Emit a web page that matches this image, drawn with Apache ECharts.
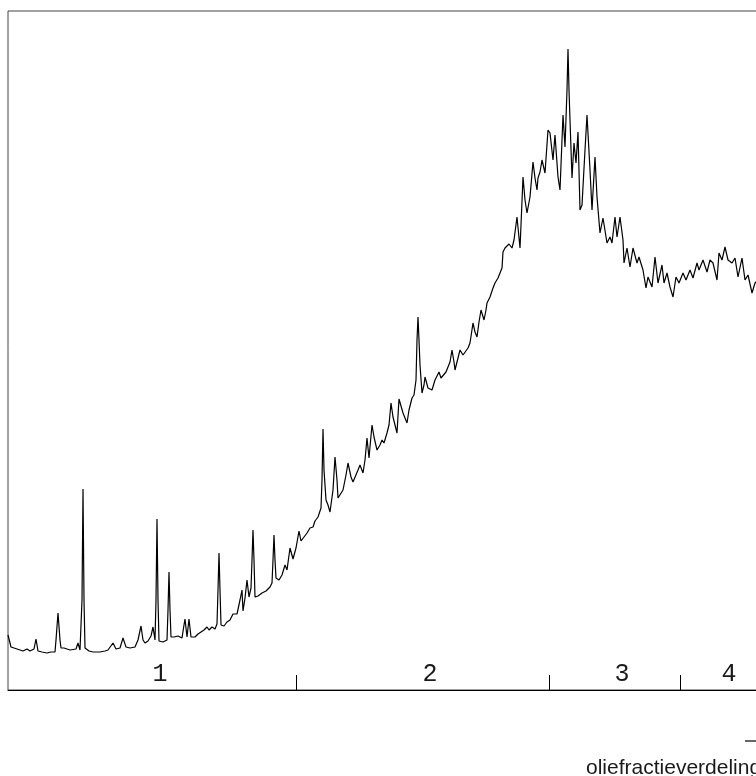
<!DOCTYPE html>
<html>
<head>
<meta charset="utf-8">
<script src="https://cdn.jsdelivr.net/npm/echarts@6/dist/echarts.min.js"></script>
<style>
html,body{margin:0;padding:0;overflow:hidden;background:#fff;width:756px;height:776px;}
#chart{width:800px;height:776px;}
</style>
</head>
<body>
<div id="chart"></div>
<script>
// retention time (arbitrary units) and detector signal
const retentionTime = [0,3,6,9,12,15,19,22,24,26,28,30,34,39,43,47,48,50,52,53,56,59,62,64,68,70,72,73,74,75,76,77,78,81,85,89,92,97,100,102,105,108,112,115,118,122,127,130,133,135,137,140,143,145,147,148,149,150,151,153,155,157,159,160,161,162,163,166,170,174,176,177,179,181,183,187,190,193,196,199,201,204,207,209,210,211,212,213,216,219,222,225,227,229,232,234,235,237,239,241,243,244,245,246,247,250,254,258,262,264,265,266,267,268,271,274,277,279,282,285,288,291,293,296,299,302,305,307,310,313,314,315,316,318,320,322,325,327,329,330,332,335,338,340,343,345,347,350,352,355,357,359,361,364,366,369,372,374,376,379,381,383,385,387,389,391,393,395,397,399,401,404,406,408,409,410,411,412,414,416,417,420,422,424,427,429,431,433,435,438,440,442,444,446,447,450,452,455,457,460,462,465,467,469,471,473,476,478,479,482,485,487,490,492,494,495,497,499,501,502,504,506,509,512,513,515,517,519,522,525,527,529,530,532,534,537,540,542,545,547,550,552,555,557,559,560,561,562,564,566,568,570,572,574,577,579,582,584,587,589,592,595,599,602,604,607,609,612,615,616,619,622,625,629,631,635,638,640,644,647,650,654,656,659,662,665,668,671,675,678,682,685,689,691,695,699,702,705,709,711,714,717,720,724,727,730,734,737,740,744,747,750];
const signal = [55,43,42,41,40,39,41,39,38,41,51,39,38,37,38,38,50,77,50,42,42,41,40,40,41,47,40,38,90,201,90,42,40,39,38,38,38,39,40,42,47,41,42,52,43,42,43,50,64,50,47,49,54,63,50,90,171,90,49,47,48,50,50,80,118,80,53,53,54,52,65,71,53,71,53,53,56,58,60,63,60,63,61,66,100,137,100,65,64,68,70,76,78,76,90,100,79,92,110,93,102,130,160,130,93,94,97,99,103,107,130,155,130,112,110,115,125,120,142,131,142,159,149,153,157,162,163,169,173,182,210,261,220,190,185,178,200,233,210,192,193,200,215,227,213,208,208,220,225,217,230,252,232,265,253,240,245,250,247,257,265,287,273,265,257,291,284,277,277,267,280,292,295,310,350,373,350,325,297,305,313,302,304,300,310,314,318,312,312,318,320,328,340,328,320,332,340,335,335,342,347,367,358,353,368,380,370,380,387,393,402,407,412,417,422,438,442,442,446,447,442,450,473,442,465,513,490,477,493,528,512,500,512,518,530,517,560,557,530,555,513,500,575,543,600,641,600,570,512,547,527,558,480,485,540,575,520,480,533,493,457,472,447,453,447,473,453,473,450,427,442,423,442,427,433,420,402,413,403,433,407,425,407,417,403,393,413,407,417,410,420,412,427,420,430,418,430,427,410,437,430,443,430,427,432,413,432,410,415,397,407,410];
// oil fraction boundaries and labels
const fractionBounds = [288, 541, 672];
const fractionLabelPos = [152, 422, 614, 721];
const fractionLabels = ['1', '2', '3', '4'];
const seriesName = 'oliefractie';
const xTitle = 'oliefractieverdeling';

const chart = echarts.init(document.getElementById('chart'), null, {renderer: 'canvas'});
const points = retentionTime.map((t, i) => [t, signal[i]]);
chart.setOption({
  animation: false,
  backgroundColor: '#fff',
  title: {
    text: xTitle,
    left: 586, top: 758, padding: 0,
    textStyle: {fontFamily: 'Liberation Sans', fontSize: 21, fontWeight: 'normal', color: '#1a1a1a'}
  },
  legend: {
    data: [{name: seriesName, icon: 'rect'}],
    left: 745, top: 731,
    itemWidth: 25, itemHeight: 1.2, padding: 0, itemGap: 6,
    itemStyle: {color: '#000', borderWidth: 0},
    lineStyle: {width: 0},
    textStyle: {fontFamily: 'Liberation Sans', fontSize: 20, color: '#1a1a1a'}
  },
  grid: {left: 8, right: 10, top: 11, bottom: 86, show: true, borderColor: '#444', borderWidth: 1},
  xAxis: {
    type: 'value', min: 0, max: 782,
    splitLine: {show: false},
    axisLine: {show: true, lineStyle: {color: '#000', width: 1}},
    axisTick: {show: true, inside: true, length: 15, customValues: fractionBounds, lineStyle: {color: '#000', width: 1}},
    axisLabel: {
      show: true, inside: true, margin: 3,
      customValues: fractionLabelPos,
      formatter: v => fractionLabels[fractionLabelPos.indexOf(v)] || '',
      fontFamily: 'Liberation Mono', fontSize: 25, color: '#1a1a1a'
    }
  },
  yAxis: {type: 'value', min: 0, max: 679, show: false},
  series: [{
    name: seriesName,
    type: 'line',
    data: points,
    symbol: 'none',
    lineStyle: {color: '#000', width: 1.2},
    itemStyle: {color: '#000'}
  }]
});
</script>
</body>
</html>
